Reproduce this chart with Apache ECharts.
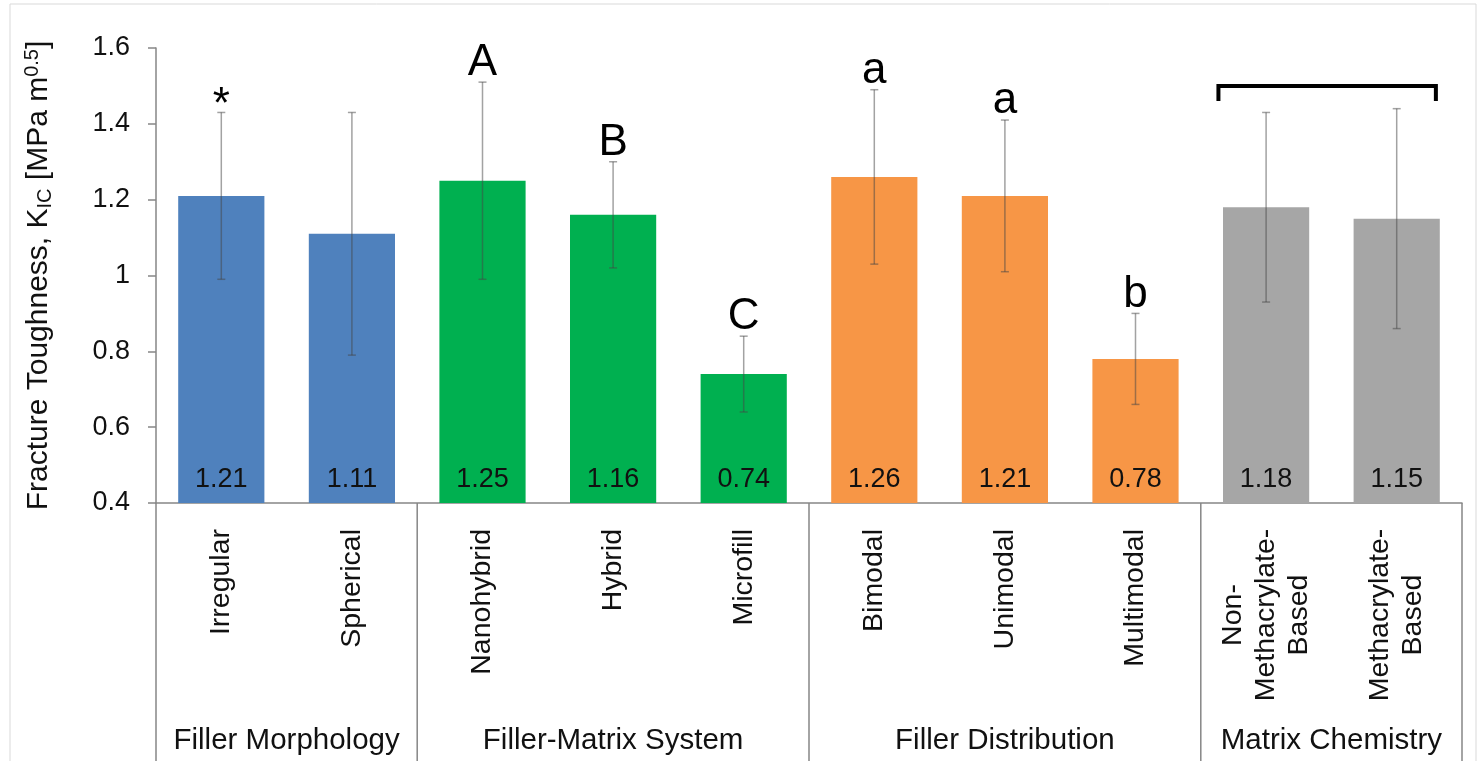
<!DOCTYPE html>
<html>
<head>
<meta charset="utf-8">
<script src="https://cdn.jsdelivr.net/npm/echarts@6/dist/echarts.min.js"></script>
<style>
html,body{margin:0;padding:0;background:#fff;}
#chart{width:1479px;height:761px;}
</style>
</head>
<body>
<div id="chart"></div>
<script>
// ---- data ----
const categories = ['Irregular', 'Spherical', 'Nanohybrid', 'Hybrid', 'Microfill',
  'Bimodal', 'Unimodal', 'Multimodal', 'Non-\nMethacrylate-\nBased', 'Methacrylate-\nBased'];
const means = [1.21, 1.11, 1.25, 1.16, 0.74, 1.26, 1.21, 0.78, 1.18, 1.15];
const errors = [0.22, 0.32, 0.26, 0.14, 0.10, 0.23, 0.20, 0.12, 0.25, 0.29];
const letters = ['*', '', 'A', 'B', 'C', 'a', 'a', 'b', '', ''];
const groups = ['Filler Morphology', 'Filler-Matrix System', 'Filler Distribution', 'Matrix Chemistry'];
const groupSizes = [2, 3, 3, 2];
const bracketValue = 1.50;      // height of the bracket over Matrix Chemistry
const bracketCategories = [8, 9];
const yMin = 0.4, yMax = 1.6, yStep = 0.2;

// ---- styles ----
const groupColors = ['#4f81bd', '#00b050', '#f79646', '#a6a6a6'];
const FONT = 'Liberation Sans';
const axisGray = '#868686';
const textColor = '#111111';

const groupOf = [];
groupSizes.forEach((n, g) => { for (let k = 0; k < n; k++) groupOf.push(g); });
const groupStart = [];
{ let s = 0; groupSizes.forEach(n => { groupStart.push(s); s += n; }); }

const chart = echarts.init(document.getElementById('chart'), null, {renderer: 'canvas'});

function catLabel(v) {
  if (v.indexOf('\n') >= 0) {
    return v.split('\n').map(t => '{c|' + t + '}').join('\n');
  }
  return v;
}

const option = {
  backgroundColor: '#ffffff',
  animation: false,
  graphic: [{
    type: 'rect', shape: {x: 10, y: 4, width: 1466, height: 800},
    style: {fill: 'none', stroke: '#d9d9d9', lineWidth: 1}, silent: true, z: -10
  }],
  grid: {left: 156, right: 17, top: 48, bottom: 258, containLabel: false},
  xAxis: {
    type: 'category',
    data: categories,
    axisLine: {show: true, lineStyle: {color: axisGray, width: 1.5}},
    axisTick: {show: false},
    axisLabel: {
      rotate: 90, margin: 26, fontFamily: FONT, fontSize: 28.5, color: textColor,
      lineHeight: 33,
      formatter: catLabel,
      rich: {c: {width: 172, align: 'center', fontFamily: FONT, fontSize: 28.5, color: textColor, lineHeight: 33}}
    }
  },
  yAxis: {
    type: 'value', min: yMin, max: yMax, interval: yStep,
    name: 'Fracture Toughness, K{sub|IC} [MPa m{sup|0.5}]',
    nameLocation: 'middle', nameRotate: 90, nameGap: 101,
    nameTextStyle: {
      fontFamily: FONT, fontSize: 30, color: textColor,
      rich: {
        sub: {fontFamily: FONT, fontSize: 20, color: textColor, padding: [13, 0, 0, 0]},
        sup: {fontFamily: FONT, fontSize: 20, color: textColor, padding: [0, 0, 13, 0]}
      }
    },
    axisLine: {show: true, lineStyle: {color: axisGray, width: 1.5}},
    axisTick: {show: true, length: 8, lineStyle: {color: axisGray, width: 1.5}},
    splitLine: {show: false},
    axisLabel: {margin: 26, fontFamily: FONT, fontSize: 27, color: textColor}
  },
  series: [
    {
      type: 'bar',
      barWidth: '66%',
      data: means.map((m, i) => ({value: m, itemStyle: {color: groupColors[groupOf[i]]}})),
      label: {
        show: true, position: 'insideBottom', distance: 10,
        fontFamily: FONT, fontSize: 27, color: textColor,
        formatter: p => p.value.toFixed(2)
      },
      z: 2
    },
    {
      type: 'custom',
      data: means.map((m, i) => [i, m, errors[i]]),
      z: 5,
      renderItem: function (params, api) {
        const i = api.value(0), m = api.value(1), e = api.value(2);
        const top = api.coord([i, m + e]);
        const bot = api.coord([i, m - e]);
        const cap = 4;
        const st = {stroke: 'rgba(70,70,70,0.5)', lineWidth: 1.5};
        const children = [
          {type: 'line', shape: {x1: top[0], y1: top[1], x2: bot[0], y2: bot[1]}, style: st},
          {type: 'line', shape: {x1: top[0] - cap, y1: top[1], x2: top[0] + cap, y2: top[1]}, style: st},
          {type: 'line', shape: {x1: bot[0] - cap, y1: bot[1], x2: bot[0] + cap, y2: bot[1]}, style: st}
        ];
        const L = letters[params.dataIndex];
        if (L) {
          const isStar = L === '*';
          children.push({
            type: 'text',
            style: {
              text: L, x: top[0], y: isStar ? top[1] - 7 : top[1] + 3,
              align: 'center', verticalAlign: isStar ? 'middle' : 'bottom',
              font: '44px "' + FONT + '"', fill: '#000'
            }
          });
        }
        return {type: 'group', children: children};
      }
    },
    {
      type: 'custom',
      data: [[bracketCategories[0], bracketCategories[1], bracketValue]],
      z: 5,
      renderItem: function (params, api) {
        const a = api.value(0), b = api.value(1), v = api.value(2);
        const bw = api.size([1, 0])[0];
        const pa = api.coord([a, v]), pb = api.coord([b, v]);
        const x1 = pa[0] - 0.365 * bw, x2 = pb[0] + 0.30 * bw, y = pa[1];
        return {
          type: 'polyline',
          shape: {points: [[x1, y + 15], [x1, y], [x2, y], [x2, y + 15]]},
          style: {stroke: '#000', lineWidth: 4, fill: 'none', lineJoin: 'miter'}
        };
      }
    },
    {
      type: 'custom',
      data: groups.map((g, k) => [groupStart[k], groupSizes[k]]),
      z: 5,
      renderItem: function (params, api) {
        const s = api.value(0), n = api.value(1);
        const bw = api.size([1, 0])[0];
        const base = api.coord([s, yMin]);
        const left = base[0] - bw / 2;
        const right = left + n * bw;
        const y0 = base[1];
        const st = {stroke: axisGray, lineWidth: 1.5};
        const children = [
          {type: 'line', shape: {x1: left, y1: y0, x2: left, y2: 761}, style: st}
        ];
        if (params.dataIndex === groups.length - 1) {
          children.push({type: 'line', shape: {x1: right, y1: y0, x2: right, y2: 761}, style: st});
        }
        children.push({
          type: 'text',
          style: {
            text: groups[params.dataIndex], x: (left + right) / 2, y: 741,
            align: 'center', verticalAlign: 'middle',
            font: '29.5px "' + FONT + '"', fill: textColor
          }
        });
        return {type: 'group', children: children};
      }
    }
  ]
};
chart.setOption(option);
</script>
</body>
</html>
